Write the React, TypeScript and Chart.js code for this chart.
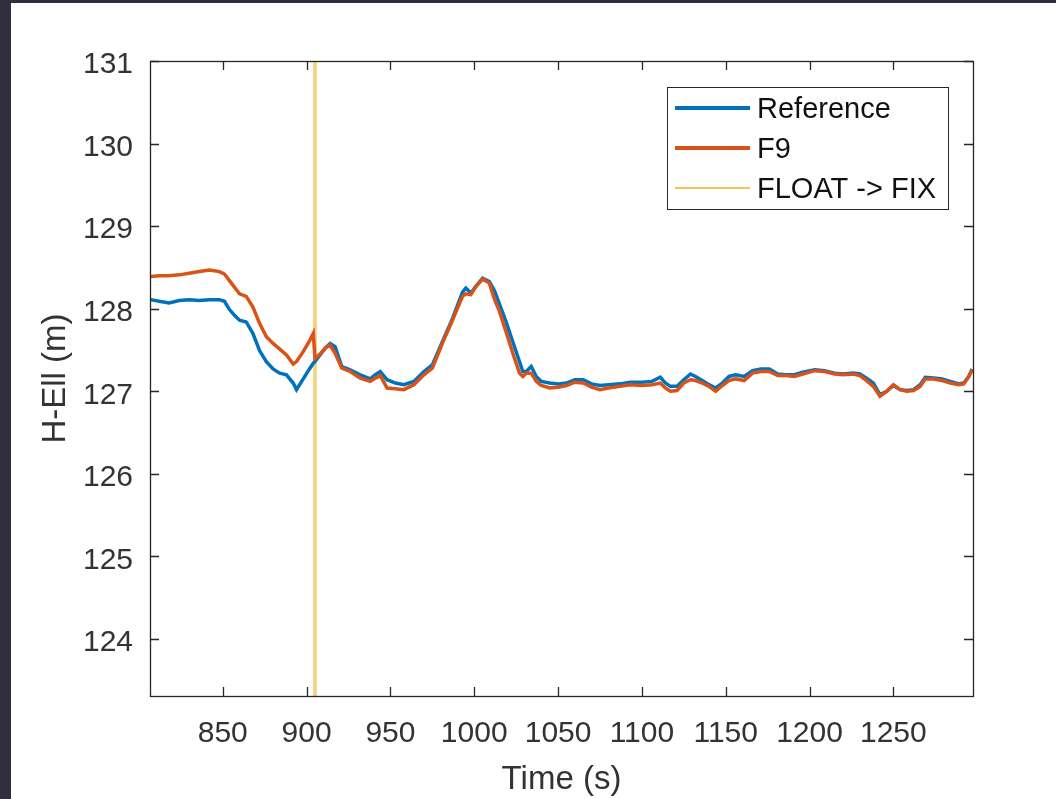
import React, { useEffect, useRef } from "react";
import { Chart, registerables } from "chart.js";
Chart.register(...registerables);

const timeS = [807, 812, 818, 824, 830, 836, 842, 848, 851, 854, 857, 860, 864, 868, 872, 876, 880, 884, 888, 892, 894, 898, 902, 904, 905, 908, 911, 914, 917, 921, 926, 932, 938, 941, 944, 948, 953, 958, 964, 970, 975, 981, 987, 993, 995, 998, 1001, 1005, 1009, 1012, 1015, 1019, 1023, 1027, 1029, 1031, 1034, 1037, 1040, 1045, 1050, 1055, 1060, 1065, 1070, 1075, 1080, 1087, 1093, 1100, 1106, 1111, 1114, 1117, 1121, 1125, 1129, 1132, 1136, 1140, 1144, 1148, 1152, 1156, 1161, 1166, 1171, 1176, 1181, 1186, 1191, 1196, 1203, 1209, 1215, 1220, 1226, 1230, 1234, 1238, 1242, 1246, 1250, 1254, 1258, 1262, 1266, 1269, 1274, 1279, 1284, 1289, 1292, 1295, 1297];

const referenceH = [128.11, 128.09, 128.07, 128.10, 128.11, 128.10, 128.11, 128.11, 128.09, 127.99, 127.92, 127.86, 127.84, 127.70, 127.49, 127.36, 127.27, 127.22, 127.20, 127.10, 127.02, 127.15, 127.28, 127.34, 127.36, 127.44, 127.52, 127.58, 127.54, 127.30, 127.26, 127.20, 127.15, 127.20, 127.24, 127.14, 127.10, 127.08, 127.12, 127.24, 127.32, 127.60, 127.88, 128.20, 128.25, 128.19, 128.27, 128.37, 128.33, 128.22, 128.06, 127.84, 127.60, 127.36, 127.24, 127.24, 127.30, 127.18, 127.12, 127.10, 127.09, 127.10, 127.14, 127.14, 127.09, 127.07, 127.08, 127.09, 127.11, 127.11, 127.12, 127.17, 127.10, 127.06, 127.06, 127.14, 127.21, 127.18, 127.13, 127.08, 127.04, 127.10, 127.18, 127.20, 127.18, 127.25, 127.27, 127.27, 127.21, 127.20, 127.20, 127.23, 127.26, 127.25, 127.22, 127.21, 127.22, 127.21, 127.16, 127.10, 126.96, 127.00, 127.07, 127.02, 127.01, 127.02, 127.08, 127.17, 127.16, 127.15, 127.12, 127.09, 127.10, 127.18, 127.27];

const f9H = [128.39, 128.40, 128.40, 128.41, 128.43, 128.45, 128.47, 128.45, 128.42, 128.34, 128.26, 128.18, 128.15, 128.02, 127.82, 127.66, 127.58, 127.51, 127.44, 127.33, 127.36, 127.48, 127.62, 127.70, 127.40, 127.45, 127.52, 127.56, 127.46, 127.28, 127.24, 127.16, 127.12, 127.16, 127.19, 127.04, 127.03, 127.02, 127.08, 127.20, 127.28, 127.58, 127.86, 128.15, 128.18, 128.17, 128.27, 128.36, 128.31, 128.12, 127.97, 127.72, 127.46, 127.22, 127.18, 127.22, 127.22, 127.12, 127.07, 127.04, 127.05, 127.07, 127.11, 127.10, 127.05, 127.02, 127.04, 127.06, 127.08, 127.07, 127.08, 127.10, 127.04, 127.00, 127.01, 127.10, 127.14, 127.13, 127.10, 127.06, 127.00, 127.07, 127.13, 127.15, 127.13, 127.22, 127.24, 127.24, 127.19, 127.19, 127.18, 127.21, 127.25, 127.24, 127.21, 127.20, 127.21, 127.19, 127.13, 127.06, 126.94, 127.00, 127.08, 127.02, 127.00, 127.01, 127.06, 127.15, 127.15, 127.13, 127.10, 127.08, 127.09, 127.18, 127.26];

const fixTime = 905;
const xTickValues = [850, 900, 950, 1000, 1050, 1100, 1150, 1200, 1250];
const yTickValues = [124, 125, 126, 127, 128, 129, 130, 131];
const xMin = 806.6;
const xMax = 1297.5;
const yMin = 123.31;
const yMax = 131;

const seriesLabels = ["Reference", "F9", "FLOAT -> FIX"];
const seriesColors = ["#0072BD", "#D95319", "#EDB120"];

export default function App() {
  const ref = useRef<HTMLCanvasElement>(null);

  useEffect(() => {
    const canvas = ref.current;
    if (!canvas) return;
    const font = "'Liberation Sans', Arial, Helvetica, sans-serif";
    const axisColor = "#262626";
    const textColor = "#333333";

    const boxPlugin = {
      id: "matlabBox",
      afterDatasetsDraw(chart: any) {
        const { ctx, chartArea: a, scales } = chart;
        ctx.save();
        ctx.strokeStyle = axisColor;
        ctx.lineWidth = 1.3;
        ctx.strokeRect(a.left + 0.5, a.top + 0.5, a.right - a.left, a.bottom - a.top);
        const L = 9;
        ctx.beginPath();
        for (const v of xTickValues) {
          const px = Math.round(scales.x.getPixelForValue(v)) + 0.5;
          ctx.moveTo(px, a.bottom);
          ctx.lineTo(px, a.bottom - L);
          ctx.moveTo(px, a.top);
          ctx.lineTo(px, a.top + L);
        }
        for (const v of yTickValues) {
          const py = Math.round(scales.y.getPixelForValue(v)) + 0.5;
          ctx.moveTo(a.left, py);
          ctx.lineTo(a.left + L, py);
          ctx.moveTo(a.right, py);
          ctx.lineTo(a.right - L, py);
        }
        ctx.stroke();

        // legend box (MATLAB style, north-east)
        const bx = 656, by = 84, bw = 281, bh = 122;
        ctx.fillStyle = "#ffffff";
        ctx.fillRect(bx, by, bw, bh);
        ctx.lineWidth = 1;
        ctx.strokeStyle = axisColor;
        ctx.strokeRect(bx + 0.5, by + 0.5, bw, bh);
        const rows = [105, 145, 185];
        chart.data.datasets.forEach((ds: any, i: number) => {
          const y = rows[i];
          ctx.beginPath();
          ctx.strokeStyle = seriesColors[i];
          ctx.lineWidth = i < 2 ? 4 : 1.5;
          ctx.moveTo(664, y);
          ctx.lineTo(739, y);
          ctx.stroke();
          ctx.fillStyle = "#111111";
          ctx.font = `29px ${font}`;
          ctx.textBaseline = "middle";
          ctx.textAlign = "left";
          ctx.fillText(ds.label, 746, y + 2);
        });
        ctx.restore();
      },
    };

    const chart = new Chart(canvas, {
      type: "line",
      data: {
        datasets: [
          {
            label: seriesLabels[0],
            data: timeS.map((t, i) => ({ x: t, y: referenceH[i] })),
            borderColor: seriesColors[0],
            borderWidth: 3.5,
            pointRadius: 0,
            tension: 0,
            order: 1,
          },
          {
            label: seriesLabels[1],
            data: timeS.map((t, i) => ({ x: t, y: f9H[i] })),
            borderColor: seriesColors[1],
            borderWidth: 3.5,
            pointRadius: 0,
            tension: 0,
            order: 0,
          },
          {
            label: seriesLabels[2],
            data: [
              { x: fixTime, y: yMin },
              { x: fixTime, y: yMax },
            ],
            borderColor: "rgba(237,177,32,0.55)",
            borderWidth: 4,
            pointRadius: 0,
            order: 2,
          },
        ],
      },
      options: {
        responsive: false,
        animation: false,
        devicePixelRatio: 1,
        layout: { padding: { left: 0, top: 58, right: 83, bottom: 0 } },
        plugins: { legend: { display: false }, tooltip: { enabled: false } },
        scales: {
          x: {
            type: "linear",
            min: xMin,
            max: xMax,
            grid: { display: false, drawTicks: false },
            border: { display: false },
            afterBuildTicks: (s: any) => {
              s.ticks = xTickValues.map((v) => ({ value: v }));
            },
            afterFit: (s: any) => {
              s.height = 103;
            },
            ticks: {
              autoSkip: false,
              maxRotation: 0,
              padding: 20,
              color: textColor,
              font: { family: font, size: 30 },
              callback: (v: any) => String(v),
            },
            title: {
              display: true,
              text: "Time (s)",
              color: textColor,
              font: { family: font, size: 33 },
              padding: { top: 0, bottom: -1 },
            },
          },
          y: {
            type: "linear",
            min: yMin,
            max: yMax,
            grid: { display: false, drawTicks: false },
            border: { display: false },
            afterBuildTicks: (s: any) => {
              s.ticks = yTickValues.map((v) => ({ value: v }));
            },
            afterFit: (s: any) => {
              s.width = 139;
            },
            ticks: {
              autoSkip: false,
              padding: 17,
              labelOffset: 4,
              color: textColor,
              font: { family: font, size: 30 },
              callback: (v: any) => String(v),
            },
            title: {
              display: true,
              text: "H-Ell (m)",
              color: textColor,
              font: { family: font, size: 33 },
              padding: { top: 25, bottom: 0 },
            },
          },
        },
      },
      plugins: [boxPlugin],
    });
    return () => chart.destroy();
  }, []);

  return (
    <div
      style={{
        position: "fixed",
        left: 0,
        top: 0,
        width: 1056,
        height: 799,
        background: "#2f2e3e",
        overflow: "hidden",
      }}
    >
      <canvas
        ref={ref}
        width={1045}
        height={796}
        style={{ position: "absolute", left: 11, top: 3, width: 1045, height: 796, background: "#ffffff", display: "block" }}
      />
    </div>
  );
}
